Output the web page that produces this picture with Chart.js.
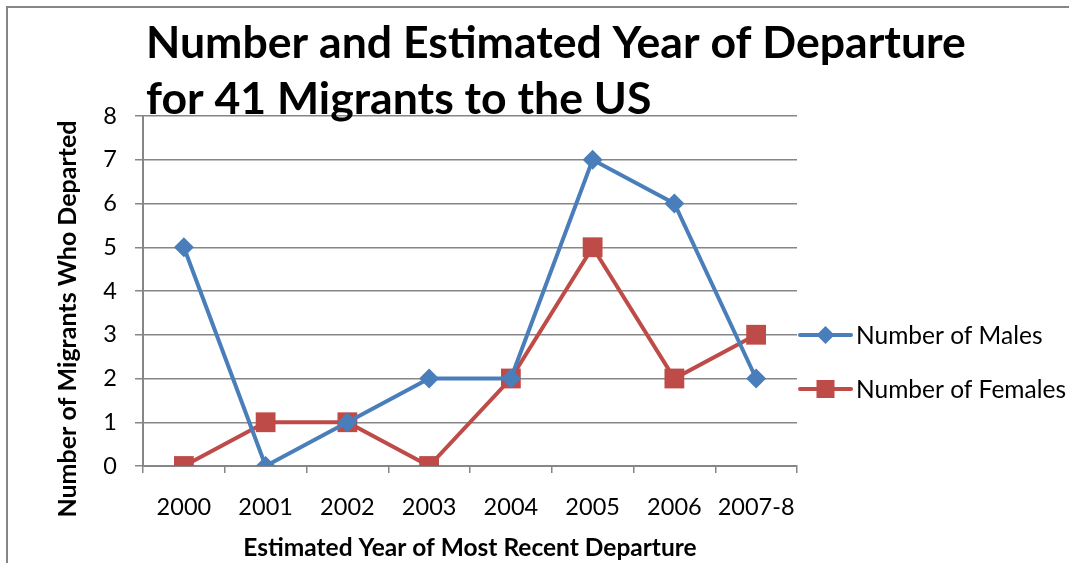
<!DOCTYPE html>
<html>
<head>
<meta charset="utf-8">
<script src="https://cdn.jsdelivr.net/npm/chart.js@4.4.1/dist/chart.umd.min.js"></script>
<style>
html,body{margin:0;padding:0;background:#fff}
#wrap{width:1069px;height:563px;position:relative}
</style>
</head>
<body>
<div id="wrap"><canvas id="chart"></canvas></div>
<script>
// values
const years=['2000','2001','2002','2003','2004','2005','2006','2007-8'];
const males=[5,0,1,2,2,7,6,2];
const females=[0,1,1,0,2,5,2,3];
const seriesNames=['Number of Males','Number of Females'];
const titleLines=['Number and Estimated Year of Departure','for 41 Migrants to the US'];
const xTitle='Estimated Year of Most Recent Departure';
const yTitle='Number of Migrants Who Departed';
const yMin=0,yMax=8,yStep=1;

const BLUE='#4A7EBB',RED='#BE4B48',GREY='#868686';
const FONT='Lato, "Open Sans", sans-serif';

// outer frame, chart title and the vertical axis title (sits lower than the plot centre in the original)
const frame={
 id:'frame',
 beforeDraw(c){
  const ctx=c.ctx;ctx.save();
  ctx.strokeStyle=GREY;ctx.lineWidth=2;
  ctx.strokeRect(7,7,1100,600);
  ctx.restore();
 },
 afterDraw(c){
  const ctx=c.ctx;ctx.save();
  ctx.fillStyle='#000';ctx.font='bold 44.6px '+FONT;ctx.textBaseline='alphabetic';
  ctx.fillText(titleLines[0],146,58);
  ctx.fillText(titleLines[1],146,114);
  ctx.translate(68,319);ctx.rotate(-Math.PI/2);
  ctx.font='bold 25px '+FONT;ctx.textAlign='center';ctx.textBaseline='middle';
  ctx.fillText(yTitle,0,0);
  ctx.restore();
 }
};

// legend drawn beside the plot, line + marker like the original
const sideLegend={
 id:'sideLegend',
 afterDraw(c){
  const ctx=c.ctx,rows=[335,389];
  c.data.datasets.forEach((ds,i)=>{
   const y=rows[i],x0=c.chartArea.right+1,x1=x0+55,cx=(x0+x1)/2;
   ctx.save();
   ctx.strokeStyle=ds.borderColor;ctx.lineWidth=4;ctx.lineCap='round';
   ctx.beginPath();ctx.moveTo(x0+2,y);ctx.lineTo(x1-2,y);ctx.stroke();
   ctx.fillStyle=ds.backgroundColor;
   if(ds.pointStyle==='rect'){ctx.fillRect(cx-9,y-9,18,18);}
   else{ctx.beginPath();ctx.moveTo(cx,y-9);ctx.lineTo(cx+9,y);ctx.lineTo(cx,y+9);ctx.lineTo(cx-9,y);ctx.closePath();ctx.fill();}
   ctx.fillStyle='#000';ctx.font='24.5px '+FONT;ctx.textBaseline='middle';
   ctx.fillText(ds.label,x1+3,y+1);
   ctx.restore();
  });
 }
};

new Chart(document.getElementById('chart'),{
 type:'line',
 data:{labels:years,datasets:[
  {label:seriesNames[0],data:males,borderColor:BLUE,backgroundColor:BLUE,borderWidth:4,pointStyle:'rectRot',pointRadius:10,pointHoverRadius:10,pointBorderWidth:0,tension:0},
  {label:seriesNames[1],data:females,borderColor:RED,backgroundColor:RED,borderWidth:4,pointStyle:'rect',pointRadius:14,pointHoverRadius:14,pointBorderWidth:0,tension:0}
 ]},
 options:{
  responsive:true,maintainAspectRatio:false,animation:false,
  layout:{padding:{left:0,top:116,right:272,bottom:0}},
  plugins:{legend:{display:false},title:{display:false},tooltip:{enabled:false}},
  scales:{
   x:{
    offset:true,
    grid:{display:true,drawOnChartArea:false,drawTicks:true,tickLength:7,color:GREY,lineWidth:1.5,offset:true},
    border:{display:true,color:GREY,width:2},
    ticks:{color:'#000',font:{family:FONT,size:23.5},padding:20,maxRotation:0,autoSkip:false},
    title:{display:true,text:xTitle,color:'#000',font:{family:FONT,size:24.5,weight:'bold'},padding:{top:0,bottom:0}},
    afterFit(s){s.height=97;}
   },
   y:{
    min:yMin,max:yMax,
    grid:{color:GREY,lineWidth:1.5,tickLength:8},
    border:{display:true,color:GREY,width:2},
    ticks:{stepSize:yStep,color:'#000',font:{family:FONT,size:23.5},padding:18},
    title:{display:false},
    afterFit(s){s.width=143;}
   }
  }
 },
 plugins:[frame,sideLegend]
});
</script>
</body>
</html>
